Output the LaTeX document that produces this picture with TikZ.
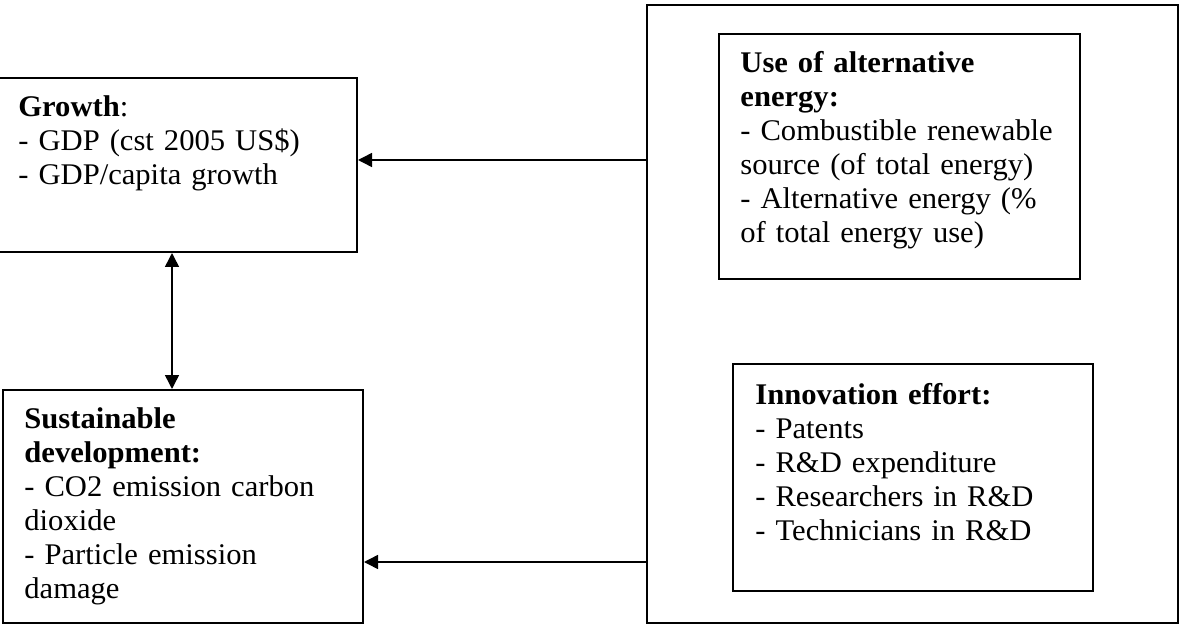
\documentclass[tikz,border=0pt]{standalone}
\usepackage{fontspec}
\setmainfont{Liberation Serif}[FakeStretch=1.02]
\usetikzlibrary{arrows.meta}
\begin{document}
\begin{tikzpicture}[x=0.5pt,y=-0.5pt,
  box/.style={draw=black,line width=1pt,rectangle,inner sep=0pt},
  txt/.style={anchor=base west,inner sep=0pt,align=left,text width=200pt,
    font=\fontsize{15}{17}\selectfont},
  conn/.style={line width=0.75pt,-{Triangle[length=7pt,width=7pt]}},
  conn2/.style={line width=0.75pt,{Triangle[length=7pt,width=7pt]}-{Triangle[length=7pt,width=7pt]}}]
\useasboundingbox (0,0) rectangle (1181,625);
% boxes
\node[box,minimum width=180pt,minimum height=87pt] (growth) at (177,165) {};
\node[box,minimum width=180pt,minimum height=116.5pt] (sus) at (183,506.5) {};
\node[box,minimum width=265.5pt,minimum height=309pt] (big) at (912.5,314) {};
\node[box,minimum width=180.5pt,minimum height=122.5pt] (use) at (899.5,156.5) {};
\node[box,minimum width=180pt,minimum height=113.5pt] (inno) at (913,477.5) {};
% texts
\node[txt] (tgrowth) at (18,117) {\textbf{Growth}:\\- GDP (cst 2005 US\$)\\- GDP/capita growth};
\node[txt] (tsus) at (24,428) {\textbf{Sustainable}\\\textbf{development:}\\- CO2 emission carbon\\dioxide\\- Particle emission\\damage};
\node[txt] (tuse) at (740,73) {\textbf{Use of alternative}\\\textbf{energy:}\\- Combustible renewable\\source (of total energy)\\- Alternative energy (\%\\of total energy use)};
\node[txt] (tinno) at (755,404) {\textbf{Innovation effort:}\\- Patents\\- R\&D expenditure\\- Researchers in R\&D\\- Technicians in R\&D};
% connectors
\coordinate (y1) at (0,160);
\coordinate (y2) at (0,562);
\coordinate (x1) at (172,0);
\draw[conn] (big.west |- y1) -- (growth.east |- y1);
\draw[conn] (big.west |- y2) -- (sus.east |- y2);
\draw[conn2] (growth.south -| x1) -- (sus.north -| x1);
\end{tikzpicture}
\end{document}
